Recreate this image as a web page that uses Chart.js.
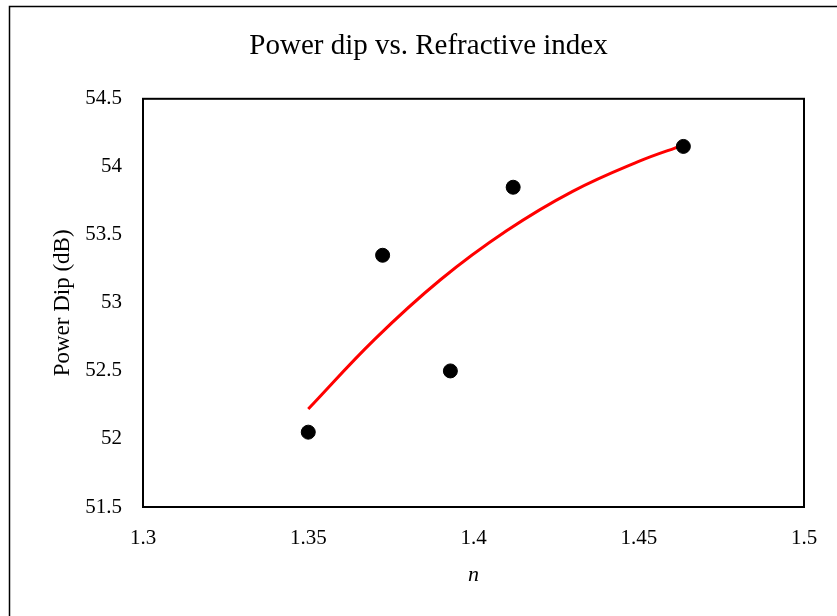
<!DOCTYPE html>
<html>
<head>
<meta charset="utf-8">
<script src="https://cdn.jsdelivr.net/npm/chart.js@4"></script>
<style>
  html, body { margin: 0; padding: 0; background: #fff; }
  #wrap { width: 837px; height: 616px; }
</style>
</head>
<body>
<div id="wrap"><canvas id="chart" width="837" height="616"></canvas></div>
<script>
// measured points (refractive index n vs power dip)
const nValues = [1.35, 1.3725, 1.393, 1.412, 1.4635];
const dipValues = [52.05, 53.35, 52.5, 53.85, 54.15];

// red trend curve
const trendN = [1.35, 1.37, 1.39, 1.41, 1.43, 1.45, 1.4635];
const trendDip = [52.22, 52.73, 53.17, 53.53, 53.82, 54.04, 54.16];

const xTicks = [1.3, 1.35, 1.4, 1.45, 1.5];
const yTicks = [51.5, 52, 52.5, 53, 53.5, 54, 54.5];

const serif = 'Liberation Serif, Times New Roman, serif';

// frame round the whole chart and box round the plot area
const framePlugin = {
    id: 'frames',
    afterDraw(chart) {
        const ctx = chart.ctx;
        const a = chart.chartArea;
        ctx.save();
        ctx.strokeStyle = '#000';
        ctx.lineWidth = 1.5;
        ctx.strokeRect(9.5, 6.5, 840, 620);
        ctx.lineWidth = 2;
        ctx.strokeRect(a.left, a.top, a.right - a.left, a.bottom - a.top);
        ctx.restore();
    }
};

const ctx = document.getElementById('chart').getContext('2d');
new Chart(ctx, {
    type: 'scatter',
    data: {
        datasets: [
            {
                label: 'Trend',
                data: trendN.map((n, i) => ({ x: n, y: trendDip[i] })),
                showLine: true,
                borderColor: '#ff0000',
                borderWidth: 3,
                pointRadius: 0,
                tension: 0.4,
                fill: false,
                order: 2
            },
            {
                label: 'Power Dip',
                data: nValues.map((n, i) => ({ x: n, y: dipValues[i] })),
                backgroundColor: '#000',
                borderColor: '#000',
                pointRadius: 7,
                order: 1
            }
        ]
    },
    options: {
        responsive: false,
        animation: false,
        layout: { padding: { left: 20, right: 0, top: 0, bottom: 0 } },
        plugins: {
            legend: { display: false },
            tooltip: { enabled: false },
            title: {
                display: true,
                text: 'Power dip vs. Refractive index',
                color: '#000',
                font: { family: serif, size: 29, weight: 'normal' },
                padding: { top: 29, bottom: 35 }
            }
        },
        scales: {
            x: {
                type: 'linear',
                min: 1.3,
                max: 1.5,
                afterBuildTicks(scale) { scale.ticks = xTicks.map(v => ({ value: v })); },
                afterFit(scale) { scale.height = 109; scale.paddingRight = 33; },
                grid: { display: false, drawTicks: false },
                border: { display: false },
                ticks: {
                    color: '#000',
                    padding: 19,
                    maxRotation: 0,
                    font: { family: serif, size: 21 },
                    callback: v => String(v)
                },
                title: {
                    display: true,
                    text: 'n',
                    color: '#000',
                    font: { family: serif, size: 22, style: 'italic' },
                    padding: { top: 4, bottom: 28 }
                }
            },
            y: {
                min: 51.5,
                max: 54.5,
                afterBuildTicks(scale) { scale.ticks = yTicks.map(v => ({ value: v })); },
                afterFit(scale) { scale.width = 123; },
                grid: { display: false, drawTicks: false },
                border: { display: false },
                ticks: {
                    color: '#000',
                    padding: 21,
                    font: { family: serif, size: 21 },
                    callback: v => String(v)
                },
                title: {
                    display: true,
                    text: 'Power Dip (dB)',
                    color: '#000',
                    font: { family: serif, size: 23 },
                    padding: { top: 29, bottom: 0 }
                }
            }
        }
    },
    plugins: [framePlugin]
});
</script>
</body>
</html>
